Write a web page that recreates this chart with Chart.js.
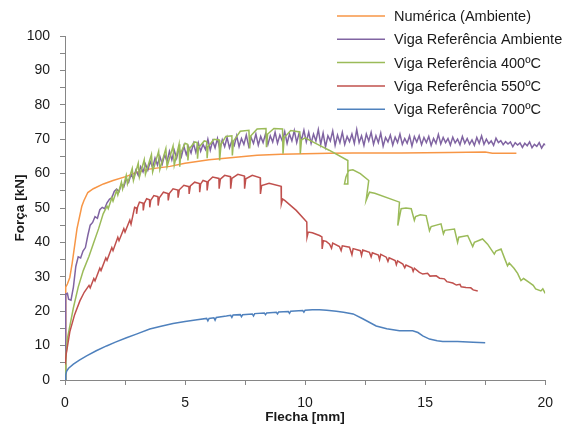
<!DOCTYPE html>
<html>
<head>
<meta charset="utf-8">
<script src="https://cdn.jsdelivr.net/npm/chart.js@4.4.1/dist/chart.umd.min.js"></script>
<style>
  html, body { margin: 0; padding: 0; background: #fff; }
  #wrap { width: 563px; height: 430px; }
</style>
</head>
<body>
<div id="wrap"><canvas id="grafico" width="563" height="430"></canvas></div>
<script>
// serie-navne (legend)
const seriesNames = ['Numérica (Ambiente)', 'Viga Referência Ambiente', 'Viga Referência 400ºC', 'Viga Referência 550ºC', 'Viga Referência 700ºC'];
const seriesColors = ['#F79646', '#8064A2', '#9BBB59', '#C0504D', '#4F81BD'];

// akse-titler og tick-labels
const xTitle = 'Flecha [mm]';
const yTitle = 'Força [kN]';
const xTickLabels = [0, 5, 10, 15, 20];
const yTickLabels = [0, 10, 20, 30, 40, 50, 60, 70, 80, 90, 100];

// [flecha, força]
const numerica = [[0,0],[0.03,27],[0.1,27.9],[0.2,29.8],[0.3,34],[0.5,44],[0.7,50.5],[0.79,52.2],[0.95,54.5],[1.18,55.6],[1.6,57],[2.0,58],[2.56,59.2],[3.0,60.4],[3.5,61.3],[4.37,62.1],[5,63],[6,64],[7,64.7],[8,65.3],[9,65.6],[10,65.8],[11,65.9],[12,66],[14,66],[16,66.1],[17.5,66.3],[17.8,65.9],[18.8,65.9]];

const vigaAmbiente = [[0,0],[0.03,25],[0.1,25.2],[0.15,23.5],[0.25,23.2],[0.35,27],[0.45,33],[0.55,35.8],[0.65,35.5],[0.75,37.5],[0.85,38.5],[0.95,42],[1.05,45],[1.15,45.8],[1.25,47.5],[1.35,47],[1.45,49.5],[1.55,50.2],[1.65,49.8],[1.75,51.5],[1.85,52.5],[1.95,53],[2.05,54.8],[2.15,55.5],[2.25,54.8],[2.35,57],[2.45,56.2],[2.55,58.5],[2.65,57.5],[2.75,59.8],[2.85,58.5],[2.95,61],[3.05,59.5],[3.15,62],[3.25,60.5],[3.35,62.8],[3.45,61],[3.55,63.5],[3.65,61.8],[3.75,64.5],[3.85,62.5],[3.95,65],[4.05,62.8],[4.15,65.5],[4.25,63.5],[4.35,66.5],[4.45,64],[4.55,66.8],[4.65,64.5],[4.75,67.5],[4.85,65],[4.95,68],[5.05,65.5],[5.15,67.8],[5.25,66],[5.35,68.8],[5.45,66.2],[5.55,69],[5.65,66.5],[5.75,68.5],[5.85,67],[5.95,70],[6.05,66.8],[6.15,69.5],[6.25,67.5],[6.35,70.2],[6.45,67],[6.55,69.8],[6.65,67.8],[6.75,70.5],[6.85,67.5],[6.95,69.5],[7.05,68.2],[7.15,71],[7.25,67.8],[7.35,70.2],[7.45,68.5],[7.55,71.2],[7.65,68],[7.75,70.5],[7.85,68.8],[7.95,71.5],[8.05,68.3],[8.15,70.8],[8.25,69],[8.35,71.5],[8.45,68.5],[8.55,71],[8.65,69.2],[8.75,72],[8.85,68.8],[8.95,71.2],[9.05,69.5],[9.15,72.2],[9.25,68.8],[9.35,71.5],[9.45,69.5],[9.55,72.5],[9.65,69],[9.75,71.8],[9.85,69.8],[9.95,72.6],[10.05,69.2],[10.15,72],[10.25,68.8],[10.35,71.5],[10.45,69.5],[10.55,72.8],[10.65,68.5],[10.75,71.8],[10.85,67.8],[10.95,71],[11.05,69.5],[11.15,72.4],[11.25,68.2],[11.35,71.2],[11.45,69],[11.55,72],[11.65,68.5],[11.75,70.8],[11.85,69.3],[11.95,71.5],[12.05,68.8],[12.15,72.8],[12.25,69],[12.35,71],[12.45,68.2],[12.55,71.5],[12.65,69.5],[12.75,72],[12.85,68.5],[12.95,71],[13.05,69],[13.15,71.8],[13.25,68],[13.35,70.5],[13.45,69.2],[13.55,71.2],[13.65,68.3],[13.75,70.6],[13.85,69],[13.95,71.5],[14.05,68.5],[14.15,70.2],[14.25,68.8],[14.35,71],[14.45,68],[14.55,70.8],[14.65,69.2],[14.75,71],[14.85,68.4],[14.95,70.5],[15.05,69],[15.15,70.8],[15.25,68.2],[15.35,70.2],[15.45,68.8],[15.55,71.4],[15.65,68.6],[15.75,70.5],[15.85,69],[15.95,70.2],[16.05,68.3],[16.15,70.6],[16.25,68.9],[16.35,70],[16.45,68.4],[16.55,70.8],[16.65,68.8],[16.75,70.2],[16.85,68.5],[16.95,69.8],[17.05,68.2],[17.15,70.5],[17.25,68.8],[17.35,71],[17.45,68.5],[17.55,70],[17.65,68.7],[17.75,69.5],[17.85,68.2],[17.95,70.3],[18.05,69],[18.15,69.6],[18.25,68.4],[18.35,69.3],[18.45,68.6],[18.55,69.2],[18.65,67.8],[18.75,69],[18.85,68.3],[18.95,68.9],[19.05,67.6],[19.15,68.8],[19.25,68.1],[19.35,69.2],[19.45,67.5],[19.55,68.5],[19.65,67.9],[19.75,69],[19.85,67.4],[19.95,68.6],[20.05,68.2]];

const viga400 = [[0,0],[0.03,6],[0.1,12],[0.35,21],[0.55,27],[0.76,31.8],[1.0,36],[1.18,39.6],[1.4,44],[1.59,48.3],[1.75,50.5],[1.8,49.8],[1.95,53],[2.0,52],[2.15,55.1],[2.2,53.8],[2.35,57.5],[2.4,55.5],[2.55,59.5],[2.6,57],[2.8,61.5],[2.85,58],[3.05,63],[3.1,59],[3.3,64],[3.35,59.8],[3.6,65.5],[3.65,60.5],[3.9,66.5],[3.95,61.2],[4.2,67.3],[4.25,62],[4.5,68],[4.55,62.5],[4.75,68.5],[4.78,62],[4.82,66],[5.0,68.8],[5.1,68.5],[5.12,63.8],[5.16,67],[5.4,69.2],[5.5,69],[5.52,64.3],[5.56,67.5],[5.8,69.5],[5.9,69.3],[5.92,64.5],[5.96,67.8],[6.2,70],[6.42,69.8],[6.44,63.8],[6.5,68.5],[6.7,70.8],[6.95,71],[6.97,65.3],[7.02,69.5],[7.3,72.3],[7.66,72.6],[7.69,67.3],[7.74,71],[8.0,73],[8.37,73.1],[8.39,67.7],[8.44,71.5],[8.7,73.1],[9.06,73],[9.08,65.8],[9.13,70.5],[9.4,72.5],[9.78,72.1],[9.8,65.8],[9.85,69.8],[10.0,70.4],[10.6,68.2],[11.0,66.8],[11.78,63.8],[11.78,57],[11.64,57],[11.7,59],[11.82,60.9],[11.99,61.1],[12.3,60],[12.65,58],[12.54,52.2],[12.68,54.6],[12.9,54.3],[13.93,51.7],[13.86,44.9],[14.0,49.8],[14.2,50],[14.42,49.8],[14.55,46.4],[14.6,47.5],[14.8,48],[15.04,47.8],[15.18,43.4],[15.25,44.6],[15.66,45.4],[15.76,42.5],[15.82,43.5],[16.22,43.9],[16.35,40],[16.4,41.5],[16.77,42],[16.98,38.8],[17.05,40],[17.39,41],[17.6,39.5],[17.88,36.6],[17.95,37.5],[18.16,38.1],[18.3,35.5],[18.43,33.2],[18.5,34],[18.7,32.5],[18.85,31],[18.99,28.9],[19.1,29.5],[19.33,28.4],[19.5,27.5],[19.6,26.5],[19.82,25.9],[19.9,26.5],[20.0,25.2]];

const viga550 = [[0,4.5],[0.05,7.5],[0.2,14],[0.4,19],[0.62,23],[0.8,25.5],[1.0,27.5],[1.05,26.8],[1.2,29.5],[1.25,28.8],[1.45,32.5],[1.5,31.8],[1.7,35.5],[1.75,34.8],[1.95,38.5],[2.0,37.6],[2.2,41.5],[2.25,40.5],[2.45,44],[2.5,43],[2.7,46.5],[2.75,45.3],[2.9,50.2],[2.98,50],[2.98,48.3],[3.02,50.2],[3.1,51.7],[3.25,51.4],[3.26,49.3],[3.3,51.3],[3.4,52.7],[3.52,52.4],[3.53,50.2],[3.57,52.2],[3.7,53.6],[3.87,53.3],[3.88,50.7],[3.93,53],[4.1,54.6],[4.29,54.2],[4.3,52.2],[4.35,54.3],[4.5,55.6],[4.7,55.2],[4.71,53],[4.76,55.3],[4.95,56.6],[5.16,56.2],[5.17,54.1],[5.22,56.4],[5.4,57.5],[5.6,57.1],[5.61,54.6],[5.65,57],[5.75,58],[5.91,57.6],[5.92,55.1],[5.97,57.8],[6.15,59],[6.41,58.6],[6.42,55.6],[6.47,58.4],[6.65,59.5],[6.89,59.1],[6.9,55.6],[6.95,58.6],[7.2,59.8],[7.47,59.3],[7.48,55.6],[7.53,58.5],[7.8,59.5],[8.13,58.8],[8.14,54.1],[8.19,56.5],[8.5,57.2],[9.0,56.3],[9.01,51.2],[9.06,52.6],[9.15,52.2],[9.63,49.3],[10.07,45.9],[10.08,41.5],[10.13,43],[10.3,42.8],[10.6,42],[10.7,41.6],[10.71,38.1],[10.76,40.5],[10.88,40.3],[11.02,39.5],[11.1,38.3],[11.15,39.8],[11.43,38.8],[11.5,37.6],[11.55,39],[11.85,38.6],[11.95,36.4],[12.0,38.2],[12.3,37.6],[12.35,36.2],[12.4,37.8],[12.68,37.1],[12.75,35.8],[12.8,37],[13.05,36.3],[13.1,35],[13.15,36.5],[13.38,35.7],[13.45,34.5],[13.5,35.5],[13.75,34.7],[13.8,33.5],[13.85,34.6],[14.07,33.7],[14.15,32.6],[14.2,33.4],[14.45,32.6],[14.5,31.6],[14.55,32.5],[14.76,31.3],[14.9,30.8],[15.1,31],[15.2,30.2],[15.46,30.3],[15.6,29.6],[15.8,29.4],[15.9,28.6],[16.15,28.2],[16.3,27.6],[16.45,27.8],[16.5,27.1],[16.7,26.9],[16.9,26.8],[17.0,26.2],[17.19,25.9]];

const viga700 = [[0,0],[0.03,1.5],[0.07,2.6],[0.15,3.4],[0.35,4.6],[0.6,5.8],[0.9,7],[1.3,8.5],[1.73,9.9],[2.1,11],[2.56,12.3],[3.0,13.4],[3.53,14.8],[4.0,15.6],[4.5,16.4],[5.0,17],[5.5,17.5],[5.9,17.9],[5.95,17.2],[6.0,17.9],[6.2,18.1],[6.25,17.4],[6.3,18.2],[6.72,18.6],[6.9,18.8],[6.95,18.2],[7.0,18.9],[7.3,19],[7.35,18.4],[7.4,19],[7.8,19.2],[7.85,18.6],[7.9,19.3],[8.3,19.5],[8.35,19],[8.4,19.5],[8.8,19.7],[8.85,19.2],[8.9,19.8],[9.3,19.9],[9.35,19.4],[9.4,20],[9.9,20.2],[9.95,19.7],[10,20.3],[10.3,20.4],[10.6,20.4],[10.9,20.3],[11.3,20],[11.6,19.7],[12.0,19.2],[12.4,17.8],[12.96,15.7],[13.4,14.9],[13.93,14.3],[14.48,14.3],[14.7,13.8],[14.9,12.8],[15.18,11.9],[15.5,11.4],[15.73,11.2],[16.35,11.2],[17,11],[17.5,10.8]];

const seriesData = [numerica, vigaAmbiente, viga400, viga550, viga700];

const FONT = '"Liberation Sans", Arial, sans-serif';
const AXIS_GRAY = '#868686';

// LEGEND: tegnes oppe til højre, inde over plotområdet
const legendPlugin = {
  id: 'hojreLegend',
  afterDraw(chart) {
    const c = chart.ctx;
    c.save();
    c.font = '14.5px ' + FONT;
    c.textBaseline = 'middle';
    chart.data.datasets.forEach((ds, i) => {
      const y = 16 + i * 23.3;
      c.strokeStyle = ds.borderColor;
      c.lineWidth = 1.5;
      c.beginPath();
      c.moveTo(337, y);
      c.lineTo(385, y);
      c.stroke();
      c.fillStyle = '#1a1a1a';
      c.fillText(ds.label, 394, y + 1);
    });
    c.restore();
  }
};

new Chart(document.getElementById('grafico'), {
  type: 'line',
  data: {
    datasets: seriesData.map((d, i) => ({
      label: seriesNames[i],
      data: d,
      borderColor: seriesColors[i],
      borderWidth: 1.5,
      pointRadius: 0,
      tension: 0,
      fill: false,
      order: seriesData.length - i   // senere serier ovenpå
    }))
  },
  options: {
    responsive: false,
    animation: false,
    layout: { padding: { left: 12, right: 16, top: 36, bottom: 5 } },
    plugins: { legend: { display: false }, tooltip: { enabled: false } },
    scales: {
      x: {
        type: 'linear',
        min: 0, max: 20,
        afterFit: s => { s.height = 45; },
        border: { color: AXIS_GRAY, width: 1 },
        grid: { drawOnChartArea: false, drawTicks: true, tickLength: 5, color: AXIS_GRAY },
        ticks: {
          stepSize: 2.5, autoSkip: false, maxRotation: 0, padding: 10,
          color: '#1a1a1a', font: { family: FONT, size: 14 },
          callback: v => xTickLabels.includes(v) ? String(v) : ''
        },
        title: { display: true, text: xTitle, color: '#1a1a1a', padding: 0,
                 font: { family: FONT, size: 13.5, weight: 'bold', lineHeight: 1.2 } }
      },
      y: {
        min: 0, max: 100,
        afterFit: s => { s.width = 53; },
        border: { color: AXIS_GRAY, width: 1 },
        grid: { drawOnChartArea: false, drawTicks: true, tickLength: 5, color: AXIS_GRAY },
        ticks: {
          stepSize: 5, autoSkip: false, padding: 10,
          color: '#1a1a1a', font: { family: FONT, size: 14 },
          callback: v => yTickLabels.includes(v) ? String(v) : ''
        },
        title: { display: true, text: yTitle, color: '#1a1a1a', padding: 0,
                 font: { family: FONT, size: 13.5, weight: 'bold', lineHeight: 1.2 } }
      }
    }
  },
  plugins: [legendPlugin]
});
</script>
</body>
</html>
